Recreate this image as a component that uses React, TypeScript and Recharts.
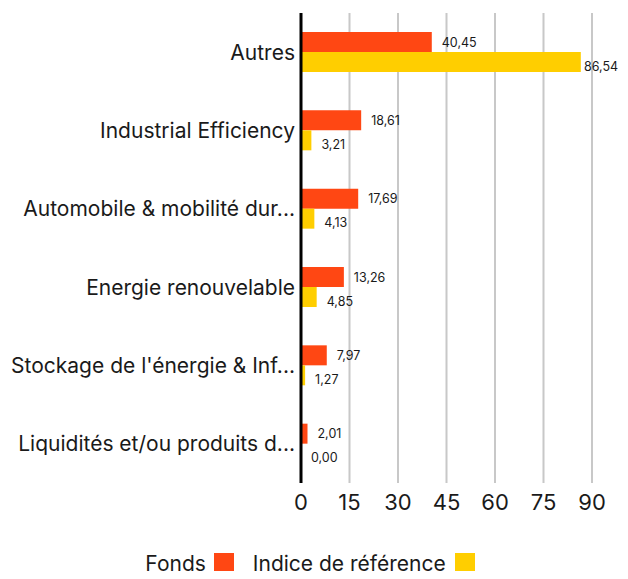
import { BarChart, Bar, XAxis, YAxis, CartesianGrid, Legend, LabelList } from 'recharts';

const categories = [
  'Autres',
  'Industrial Efficiency',
  'Automobile & mobilité dur...',
  'Energie renouvelable',
  "Stockage de l'énergie & Inf...",
  'Liquidités et/ou produits d...',
];
const fonds = [40.45, 18.61, 17.69, 13.26, 7.97, 2.01];
const indice = [86.54, 3.21, 4.13, 4.85, 1.27, 0.0];
const xTicks = [0, 15, 30, 45, 60, 75, 90];

const FONT = 'Inter, "Noto Sans", sans-serif';
const TEXT = '#1a1a1a';
const ORANGE = '#ff4713';
const YELLOW = '#ffce00';
const CHART_W = 612;

const data = categories.map((name, i) => ({ name, fonds: fonds[i], indice: indice[i] }));

const fmt = (v: number) => v.toFixed(2).replace('.', ',');

// keep a label inside the chart when the bar runs close to the right edge
const labelX = (end: number) => Math.min(end + 10, CHART_W - 36);

// both value labels are drawn from the fund bar, so a zero-width benchmark bar still gets its label
const renderLabels = (props: any) => {
  const { x, y, width, height, value, index } = props;
  const perUnit = width / value;
  const ref = indice[index];
  return (
    <g fontSize={12.5} fontFamily={FONT} fill={TEXT}>
      <text x={labelX(x + width)} y={y + height / 2} dominantBaseline="central">
        {fmt(value)}
      </text>
      <text x={labelX(x + ref * perUnit)} y={y + height * 1.5 + 4} dominantBaseline="central">
        {fmt(ref)}
      </text>
    </g>
  );
};

const renderLegend = () => (
  <div
    style={{
      display: 'flex',
      justifyContent: 'center',
      alignItems: 'center',
      fontFamily: FONT,
      fontSize: 21,
      color: TEXT,
      height: 26,
    }}
  >
    <span>Fonds</span>
    <span style={{ width: 20, height: 20, background: ORANGE, marginLeft: 8, marginRight: 19 }} />
    <span>Indice de référence</span>
    <span style={{ width: 20, height: 20, background: YELLOW, marginLeft: 9 }} />
  </div>
);

export default function App() {
  return (
    <BarChart
      width={CHART_W}
      height={563}
      data={data}
      layout="vertical"
      margin={{ top: 5, right: 28, bottom: 10, left: 0 }}
      barGap={0}
      barCategoryGap={0}
    >
      <CartesianGrid horizontal={false} stroke="#c8c8c8" strokeWidth={2} />
      <XAxis
        type="number"
        domain={[0, 90]}
        ticks={xTicks}
        axisLine={false}
        tickLine={false}
        tick={{ fill: TEXT, fontSize: 22, fontFamily: FONT }}
        tickMargin={5}
        height={52}
      />
      <YAxis
        type="category"
        dataKey="name"
        width={293}
        axisLine={{ stroke: '#000', strokeWidth: 3 }}
        tickLine={false}
        tickMargin={0}
        tick={{ fill: TEXT, fontSize: 21, fontFamily: FONT }}
      />
      <Legend verticalAlign="bottom" content={renderLegend} wrapperStyle={{ bottom: -5, left: 10 }} />
      <Bar dataKey="fonds" name="Fonds" fill={ORANGE} barSize={20} isAnimationActive={false}>
        <LabelList dataKey="fonds" content={renderLabels} />
      </Bar>
      <Bar dataKey="indice" name="Indice de référence" fill={YELLOW} barSize={20} isAnimationActive={false} />
    </BarChart>
  );
}
